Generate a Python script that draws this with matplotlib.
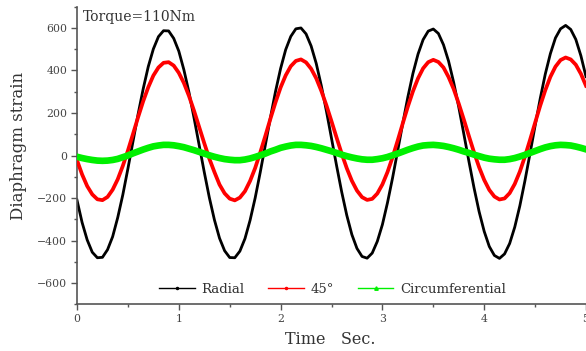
import numpy as np
import matplotlib
matplotlib.use("Agg")
import matplotlib.pyplot as plt
from matplotlib.lines import Line2D
from matplotlib.ticker import MultipleLocator

# Sample times (s), 0.05 s step
time = np.linspace(0.0, 5.0, 101)

radial = [
    -210, -315, -397, -455, -481, -479, -443, -382, -292, -185,
    -62, 66, 194, 313, 418, 501, 559, 587, 586, 551,
    491, 403, 297, 176, 49, -78, -198, -303, -389, -448,
    -480, -481, -450, -391, -305, -200, -79, 49, 178, 301,
    409, 498, 560, 596, 600, 572, 515, 433, 328, 209,
    81, -48, -171, -281, -372, -437, -475, -483, -459, -404,
    -325, -222, -105, 22, 151, 275, 386, 477, 545, 585,
    595, 574, 521, 444, 344, 228, 101, -28, -152, -264,
    -357, -428, -470, -484, -463, -414, -337, -237, -119, 9,
    140, 267, 383, 479, 553, 596, 612, 593, 546, 469,
    371,
]

deg45 = [
    -22, -89, -144, -183, -206, -210, -195, -161, -112, -49,
    23, 101, 180, 255, 321, 376, 414, 436, 439, 423,
    389, 341, 280, 210, 134, 58, -15, -78, -137, -178,
    -203, -211, -198, -168, -120, -59, 14, 92, 173, 250,
    320, 377, 420, 445, 452, 438, 408, 363, 304, 236,
    161, 84, 9, -60, -119, -165, -196, -209, -204, -179,
    -136, -78, -8, 70, 151, 230, 302, 363, 410, 439,
    450, 440, 414, 369, 313, 244, 169, 91, 15, -55,
    -115, -162, -193, -207, -202, -177, -134, -76, -5, 73,
    154, 234, 307, 370, 418, 449, 461, 452, 427, 384,
    328,
]

circumferential = [
    -6, -12, -17, -21, -24, -25, -24, -21, -16, -8,
    0, 10, 19, 28, 36, 43, 47, 50, 50, 48,
    44, 39, 32, 25, 17, 9, 1, -6, -12, -17,
    -20, -22, -22, -19, -14, -7, 1, 9, 19, 27,
    36, 42, 47, 50, 50, 48, 45, 40, 34, 27,
    20, 12, 4, -3, -9, -14, -18, -20, -20, -17,
    -13, -7, 1, 9, 18, 27, 35, 42, 47, 49,
    50, 48, 45, 40, 34, 27, 19, 12, 4, -3,
    -10, -15, -18, -20, -20, -17, -12, -5, 3, 12,
    21, 30, 38, 44, 48, 50, 49, 47, 42, 36,
    29,
]

series_names = ["Radial", "45\u00b0", "Circumferential"]
series_colors = ["#000000", "#ff0000", "#00f000"]

plt.rcParams["font.family"] = ["DejaVu Serif"]
plt.rcParams["axes.unicode_minus"] = True

fig = plt.figure(figsize=(5.86, 3.51), dpi=100)
ax = fig.add_axes([77 / 586, 46.7 / 351, 509 / 586, 297.6 / 351])

ax.plot(time, radial, color=series_colors[0], lw=2.0, zorder=2,
        solid_joinstyle="round")
ax.plot(time, deg45, color=series_colors[1], lw=2.7, zorder=3,
        solid_joinstyle="round")
ax.plot(time, circumferential, color=series_colors[2], lw=4.8, zorder=4,
        solid_joinstyle="round")

ax.set_xlim(0, 5)
ax.set_ylim(-700, 700)
ax.xaxis.set_major_locator(MultipleLocator(1))
ax.xaxis.set_minor_locator(MultipleLocator(0.5))
ax.yaxis.set_major_locator(MultipleLocator(200))
ax.yaxis.set_minor_locator(MultipleLocator(100))

axis_color = "#555555"
for side in ("top", "right"):
    ax.spines[side].set_visible(False)
for side in ("left", "bottom"):
    ax.spines[side].set_color(axis_color)
    ax.spines[side].set_linewidth(1.2)

ax.tick_params(which="major", direction="out", length=4, width=1.0,
               color=axis_color, labelcolor="#444444", labelsize=7.8, pad=3)
ax.tick_params(which="minor", direction="out", length=2.2, width=1.0,
               color=axis_color)

ax.text(0.012, 0.99, "Torque=110Nm", transform=ax.transAxes,
        ha="left", va="top", fontsize=10, color="#333333")

fig.text(19 / 586, 1 - 146 / 351, "Diaphragm strain", rotation=90,
         ha="center", va="center", fontsize=12, color="#333333")
fig.text(330 / 586, 1 - 340 / 351, "Time   Sec.",
         ha="center", va="center", fontsize=11.5, color="#333333")

handles = [
    Line2D([], [], color=series_colors[0], lw=1.0, marker=".", markersize=3),
    Line2D([], [], color=series_colors[1], lw=1.0, marker=".", markersize=3),
    Line2D([], [], color=series_colors[2], lw=1.0, marker="^", markersize=2.5),
]
leg = ax.legend(handles, series_names, loc="center", ncol=3,
                bbox_to_anchor=(0.502, 0.05), frameon=False, fontsize=9.5,
                handlelength=2.7, handletextpad=0.5, columnspacing=1.8,
                borderaxespad=0)
for t in leg.get_texts():
    t.set_color("#333333")

fig.savefig("out.png", dpi=100)
